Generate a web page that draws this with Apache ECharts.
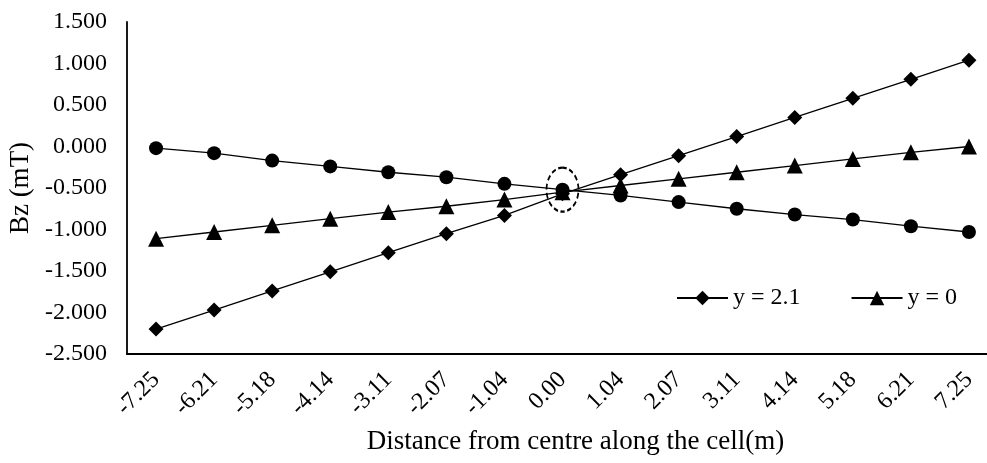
<!DOCTYPE html>
<html>
<head>
<meta charset="utf-8">
<title>Bz along the cell</title>
<script src="https://cdn.jsdelivr.net/npm/echarts@6/dist/echarts.min.js"></script>
<style>
  html, body { margin: 0; padding: 0; background: #fff; }
  #chart { width: 987px; height: 463px; }
</style>
</head>
<body>
<div id="chart"></div>
<script>
// Distance from the cell centre (m)
const distances = ['-7.25', '-6.21', '-5.18', '-4.14', '-3.11', '-2.07', '-1.04', '0.00',
                   '1.04', '2.07', '3.11', '4.14', '5.18', '6.21', '7.25'];

// Bz (mT) at each offset
const bzY21 = [-2.20, -1.97, -1.74, -1.51, -1.28, -1.05, -0.83, -0.57,
               -0.34, -0.11, 0.12, 0.35, 0.58, 0.81, 1.04];
const bzY0 = [-1.11, -1.03, -0.95, -0.87, -0.79, -0.72, -0.64, -0.55,
              -0.47, -0.39, -0.31, -0.23, -0.15, -0.07, 0.00];
const bzYm21 = [-0.02, -0.08, -0.17, -0.24, -0.31, -0.37, -0.45, -0.52,
                -0.59, -0.67, -0.75, -0.82, -0.88, -0.96, -1.03];

// y-axis range and step
const yMin = -2.5, yMax = 1.5, yStep = 0.5;

const FONT = 'Liberation Serif';
const INK = '#000';

const chart = echarts.init(document.getElementById('chart'), null, { renderer: 'canvas' });

function lineSeries(name, data, symbol, size) {
  return {
    name: name,
    type: 'line',
    data: data,
    symbol: symbol,
    symbolSize: size,
    showSymbol: true,
    animation: false,
    lineStyle: { color: INK, width: 1.3 },
    itemStyle: { color: INK, borderWidth: 0 },
    emphasis: { disabled: true },
    z: 3
  };
}

const circles = lineSeries('y = -2.1', bzYm21, 'circle', 14);
// dashed ring around the common crossing point at the centre
circles.markPoint = {
  silent: true,
  symbol: 'path://M0,-1A1,1,0,1,1,0,1A1,1,0,1,1,0,-1Z',
  symbolSize: [32, 44],
  itemStyle: { color: 'rgba(0,0,0,0)', borderColor: INK, borderWidth: 2, borderType: [5, 3] },
  label: { show: false },
  data: [{ coord: ['0.00', bzYm21[7]] }]
};

chart.setOption({
  backgroundColor: '#fff',
  animation: false,
  textStyle: { fontFamily: FONT, color: INK },
  // plot area runs a little past the right edge of the canvas
  grid: { left: 127, top: 22, width: 871, height: 332, containLabel: false, outerBoundsMode: 'none' },
  legend: {
    data: ['y = 2.1', 'y = 0'],
    left: 676,
    top: 286,
    padding: 0,
    itemWidth: 51,
    itemHeight: 18,
    itemGap: 50,
    textStyle: { fontFamily: FONT, fontSize: 24, color: INK },
    selectedMode: false
  },
  xAxis: {
    type: 'category',
    data: distances,
    boundaryGap: true,
    axisLine: { onZero: false, lineStyle: { color: INK, width: 1.8 } },
    axisTick: { show: false },
    axisLabel: { rotate: 45, fontFamily: FONT, fontSize: 24, color: INK, margin: 22, interval: 0 },
    splitLine: { show: false },
    name: 'Distance from centre along the cell(m)',
    nameLocation: 'middle',
    nameGap: 74,
    nameTextStyle: { fontFamily: FONT, fontSize: 27, color: INK, padding: [0, 0, 0, 26] }
  },
  yAxis: {
    type: 'value',
    min: yMin,
    max: yMax,
    interval: yStep,
    axisLine: { show: true, lineStyle: { color: INK, width: 1.8 } },
    axisTick: { show: false },
    splitLine: { show: false },
    axisLabel: {
      fontFamily: FONT, fontSize: 24, color: INK, margin: 20,
      formatter: v => v.toFixed(3)
    },
    name: 'Bz (mT)',
    nameLocation: 'middle',
    nameRotate: 90,
    nameGap: 88,
    nameTextStyle: { fontFamily: FONT, fontSize: 27, color: INK }
  },
  series: [
    lineSeries('y = 2.1', bzY21, 'diamond', 15),
    lineSeries('y = 0', bzY0, 'triangle', 16),
    circles
  ]
});
</script>
</body>
</html>
